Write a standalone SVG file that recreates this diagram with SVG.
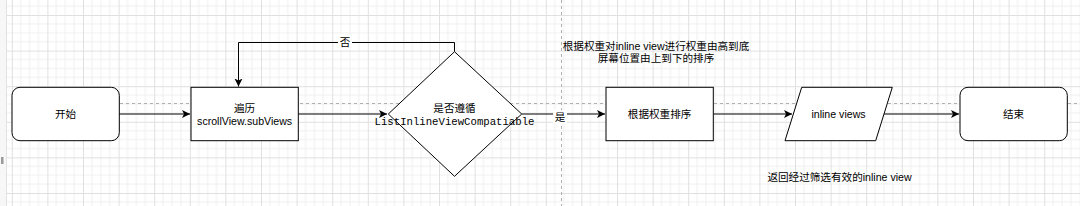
<svg xmlns="http://www.w3.org/2000/svg" width="1080" height="206" viewBox="0 0 1080 206">
<style>
.t{font-family:"Liberation Sans","Noto Sans CJK SC",sans-serif;font-size:10.6px;fill:#000;text-anchor:middle}
.m{font-family:"Liberation Mono","DejaVu Sans Mono",monospace;font-size:10.67px;fill:#000;text-anchor:middle}
.n{fill:#fff;stroke:#000;stroke-width:1}
.e{fill:none;stroke:#000;stroke-width:1}
.g{stroke:#b0b0b0;stroke-width:1;stroke-dasharray:3,3;fill:none}
</style>
<defs>
<pattern id="grid" width="35.6" height="35.6" patternUnits="userSpaceOnUse" x="11.8" y="15">
<path d="M8.9,0V35.6M17.8,0V35.6M26.7,0V35.6M0,8.9H35.6M0,17.8H35.6M0,26.7H35.6" stroke="#f0f0f0" stroke-width="1" fill="none"/>
<path d="M0.5,0V35.6M0,0.5H35.6" stroke="#e0e0e0" stroke-width="1" fill="none"/>
</pattern>
<marker id="arr" markerWidth="10" markerHeight="10" refX="8" refY="4" orient="auto" markerUnits="userSpaceOnUse">
<path d="M0,0 L8,4 L0,8 L2,4 z" fill="#000"/>
</marker>
</defs>
<rect width="1080" height="206" fill="#fff"/>
<rect width="1080" height="206" fill="url(#grid)"/>
<rect x="0" y="0" width="6" height="206" fill="#f7f7f7"/>
<line x1="6.5" y1="0" x2="6.5" y2="206" stroke="#e2e2e2"/>
<rect x="1" y="157" width="2.5" height="7" fill="#9a9a9a"/>
<line class="g" x1="12" y1="103.5" x2="1080" y2="103.5"/>
<line class="g" x1="561.5" y1="0" x2="561.5" y2="206"/>

<g id="connectors">
<path class="e" d="M119,114H190" marker-end="url(#arr)"/>
<path class="e" d="M298,114H387" marker-end="url(#arr)"/>
<path class="e" d="M454.5,51.7V42.5H238.5V86.5" marker-end="url(#arr)"/>
<rect x="338" y="35" width="14" height="14" fill="#fff"/>
<text class="t" x="345" y="46.3">否</text>
<path class="e" d="M521.7,114H605" marker-end="url(#arr)"/>
<rect x="553" y="110" width="14" height="13" fill="#fff"/>
<text class="t" x="560" y="120.5">是</text>
<path class="e" d="M713.3,114H792" marker-end="url(#arr)"/>
<path class="e" d="M884,114H959" marker-end="url(#arr)"/>
</g>

<g id="start">
<rect class="n" x="12" y="87.3" width="107.3" height="53.4" rx="8"/>
<text class="t" x="65.6" y="117.8">开始</text>
</g>
<g id="iterate">
<rect class="n" x="191" y="87.3" width="107.3" height="53.4"/>
<text class="t" x="244.6" y="111.8">遍历</text>
<text class="t" x="244.6" y="124.6">scrollView.subViews</text>
</g>
<g id="decision">
<path class="n" d="M454.5,51.7L521.7,114L454.5,176.3L388.3,114Z"/>
<text class="t" x="454.5" y="112.3">是否遵循</text>
<text class="m" x="454.5" y="124.6">ListInlineViewCompatiable</text>
</g>
<g id="sort">
<rect class="n" x="606" y="87.3" width="107.3" height="53.4"/>
<text class="t" x="659.6" y="117.8">根据权重排序</text>
</g>
<g id="output">
<path class="n" d="M801.7,87.3H892.3L875.7,140.7H785Z"/>
<text class="t" x="838.5" y="117.8">inline views</text>
</g>
<g id="end">
<rect class="n" x="960" y="87.3" width="107.3" height="53.4" rx="8"/>
<text class="t" x="1013.6" y="117.8">结束</text>
</g>
<g id="note-sort">
<text class="t" x="656" y="49.5">根据权重对inline view进行权重由高到底</text>
<text class="t" x="656" y="62">屏幕位置由上到下的排序</text>
</g>
<g id="note-output">
<text class="t" x="839.5" y="180.5">返回经过筛选有效的inline view</text>
</g>
</svg>
